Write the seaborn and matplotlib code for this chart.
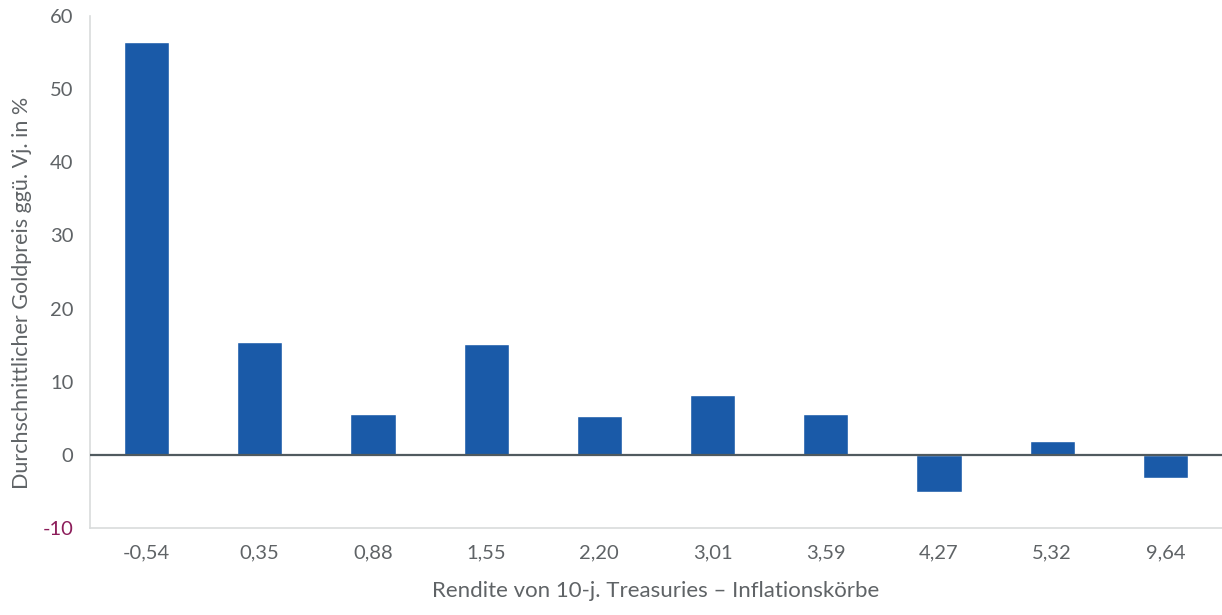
import pandas as pd
import matplotlib.pyplot as plt
import seaborn as sns

# Renditekörbe (10-j. Treasuries - Inflation) und Goldpreisveränderung ggü. Vj.
koerbe = ["-0,54", "0,35", "0,88", "1,55", "2,20", "3,01", "3,59", "4,27", "5,32", "9,64"]
gold_vj = [56.5, 15.4, 5.6, 15.2, 5.3, 8.2, 5.6, -5.1, 1.9, -3.2]

df = pd.DataFrame({"Korb": koerbe, "Gold": gold_vj})

sns.set_style("white")
plt.rcParams["font.family"] = ["Lato", "DejaVu Sans"]

fig = plt.figure(figsize=(12.22, 6.15), dpi=100)
ax = fig.add_axes([0.0736, 0.1415, 0.9264, 0.8325])

sns.barplot(data=df, x="Korb", y="Gold", color="#1a5aa8", width=0.4,
            saturation=1, ax=ax)

ax.axhline(0, color="#505a5f", linewidth=1.6, zorder=3)
ax.set_ylim(-10, 60)
ax.set_xlim(-0.5, 9.5)
ax.set_yticks(range(-10, 61, 10))

grau = "#5f6366"
ax.tick_params(axis="both", length=0, labelsize=14.5, colors=grau)
ax.tick_params(axis="x", pad=12)
ax.tick_params(axis="y", pad=12)
for lab in ax.get_yticklabels():
    if lab.get_text() in ("-10", "−10"):
        lab.set_color("#8c1d5a")

for s in ["top", "right"]:
    ax.spines[s].set_visible(False)
ax.spines["left"].set_color("#d9dcdc")
ax.spines["bottom"].set_color("#d9dcdc")
ax.spines["left"].set_linewidth(1.2)
ax.spines["bottom"].set_linewidth(1.2)

ax.set_xlabel("Rendite von 10-j. Treasuries – Inflationskörbe", fontsize=16, color=grau, labelpad=14)
ax.set_ylabel("Durchschnittlicher Goldpreis ggü. Vj. in %", fontsize=15.5, color=grau)
ax.yaxis.set_label_coords(-0.051, 0.46)

plt.rcParams["axes.unicode_minus"] = False
fig.savefig("out.png", dpi=100)
